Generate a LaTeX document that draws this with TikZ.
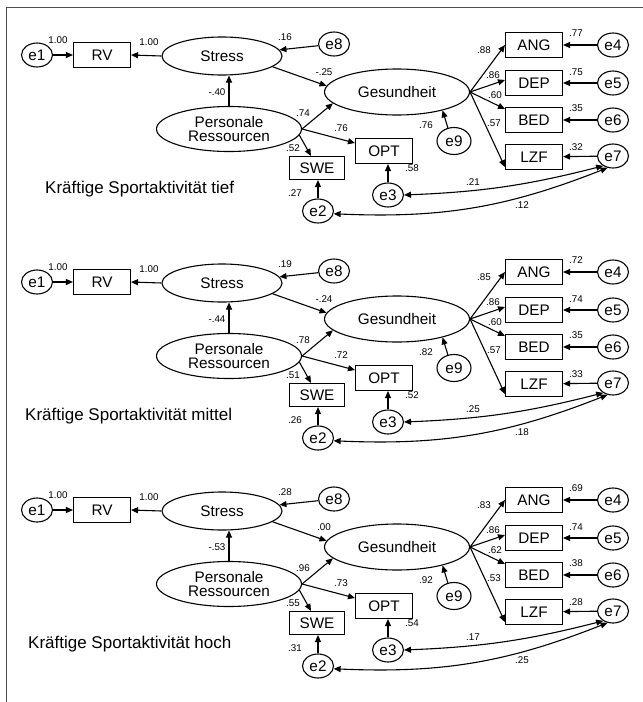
\documentclass[tikz,border=0pt]{standalone}
\usepackage{fontspec}
\setmainfont{Liberation Sans}
\usetikzlibrary{arrows.meta,shapes.geometric}
\definecolor{frameGray}{HTML}{4D4D4D}
\newcommand{\nodefont}{\fontsize{15.3}{14.6}\selectfont}
\tikzset{
 lat/.style={draw, ellipse, line width=1.1pt, inner sep=0pt, align=center, font=\nodefont},
 obs/.style={draw, rectangle, line width=1.1pt, minimum width=57pt, minimum height=25pt, inner sep=0pt, font=\nodefont},
 err/.style={draw, ellipse, line width=1.1pt, minimum width=31pt, minimum height=24pt, inner sep=0pt, font=\nodefont},
 coef/.style={inner sep=0pt, font=\fontsize{9.8}{10}\selectfont},
 arr/.style={-{Triangle[length=7pt,width=6pt]}, line width=1.1pt},
 cov/.style={{Triangle[length=7pt,width=6pt]}-{Triangle[length=7pt,width=6pt]}, line width=1.1pt},
}
\newcommand{\sempanel}[4]{%
\begin{scope}[shift={(0,#2)}]
 \node[err] (#1-e1) at (37,55) {e1};
 \node[obs] (#1-rv) at (102,55) {RV};
 \node[lat, minimum width=120pt, minimum height=38pt] (#1-stress) at (222,56) {Stress};
 \node[err] (#1-e8) at (334,44) {e8};
 \node[lat, minimum width=145pt, minimum height=45pt] (#1-pr) at (229,129) {Personale\\Ressourcen};
 \node[lat, minimum width=145pt, minimum height=46pt] (#1-ges) at (397,92) {Gesundheit};
 \node[obs, minimum width=55pt, minimum height=23pt] (#1-swe) at (317,168) {SWE};
 \node[obs] (#1-opt) at (384,151) {OPT};
 \node[err] (#1-e2) at (318,211) {e2};
 \node[err] (#1-e3) at (388,195) {e3};
 \node[err, minimum width=34pt, minimum height=27pt] (#1-e9) at (454,141) {e9};
 \node[obs] (#1-ang) at (534,45) {ANG};
 \node[obs] (#1-dep) at (534,83) {DEP};
 \node[obs] (#1-bed) at (534,120) {BED};
 \node[obs] (#1-lzf) at (534,157) {LZF};
 \node[err] (#1-e4) at (613,45) {e4};
 \node[err] (#1-e5) at (613,83) {e5};
 \node[err] (#1-e6) at (613,120) {e6};
 \node[err] (#1-e7) at (613,156) {e7};
 \node[anchor=west, inner sep=0pt, font=\fontsize{17}{18}\selectfont] (#1-title) at (#3,189) {Kräftige Sportaktivität #4};
 \draw[arr] (#1-e1.east) -- (#1-rv.west);
 \draw[arr] (#1-stress.west) -- (#1-rv.east);
 \draw[arr] (#1-e8) -- (#1-stress);
 \draw[arr] (#1-pr.north) -- (#1-pr.north |- #1-stress.south);
 \draw[arr] (#1-stress.-12) -- (#1-ges.175);
 \draw[arr] (#1-pr.east) -- (#1-ges.190);
 \draw[arr] (#1-pr.east) -- ([yshift=8pt]#1-opt.west);
 \draw[arr] (#1-pr.-5) -- ([xshift=-6pt]#1-swe.north);
 \draw[arr] (#1-e2.north) -- (#1-e2.north |- #1-swe.south);
 \draw[arr] (#1-e3.north) -- (#1-e3.north |- #1-opt.south);
 \draw[arr] (#1-e9.115) -- (#1-ges.-22);
 \draw[arr] (#1-ges.east) -- (#1-ang.west);
 \draw[arr] (#1-ges.east) -- ([yshift=3pt]#1-dep.west);
 \draw[arr] (#1-ges.east) -- ([yshift=-2pt]#1-bed.north west);
 \draw[arr] (#1-ges.east) -- ([yshift=3pt]#1-lzf.south west);
 \draw[arr] (#1-e4) -- (#1-ang);
 \draw[arr] (#1-e5) -- (#1-dep);
 \draw[arr] (#1-e6) -- (#1-bed);
 \draw[arr] (#1-e7) -- (#1-lzf);
 \draw[cov] (#1-e3.east) to[bend right=6] (#1-e7.225);
 \draw[cov] (#1-e2.-10) to[bend right=12] (#1-e7.245);
 \foreach \x/\y [count=\k] in {58/40,149/42,285/37,324/72,217/92,303/113,341/128,293/148,295/193,412/168,426/125,
   484/50,493/75,495/95,494/123,576/33,576/72,576/108,576/147,473/182,522/205}
   \coordinate (#1-c\k) at (\x,\y);
\end{scope}}
\newcommand{\coefs}[2]{\foreach \v [count=\k] in {#2} \node[coef] at (#1-c\k) {\v};}

\begin{document}
\begin{tikzpicture}[x=1pt, y=-1pt]
\useasboundingbox (0,0) rectangle (643,702);
\draw[frameGray, line width=1.2pt] (6.5,702) -- (6.5,7.5) -- (643,7.5);
\sempanel{a}{0}{45}{tief}
\coefs{a}{1.00,1.00,.16,-.25,-.40,.74,.76,.52,.27,.58,.76,.88,.86,.60,.57,.77,.75,.35,.32,.21,.12}
\sempanel{b}{227}{25}{mittel}
\coefs{b}{1.00,1.00,.19,-.24,-.44,.78,.72,.51,.26,.52,.82,.85,.86,.60,.57,.72,.74,.35,.33,.25,.18}
\sempanel{c}{455}{28}{hoch}
\coefs{c}{1.00,1.00,.28,.00,-.53,.96,.73,.55,.31,.54,.92,.83,.86,.62,.53,.69,.74,.38,.28,.17,.25}
\end{tikzpicture}
\end{document}
